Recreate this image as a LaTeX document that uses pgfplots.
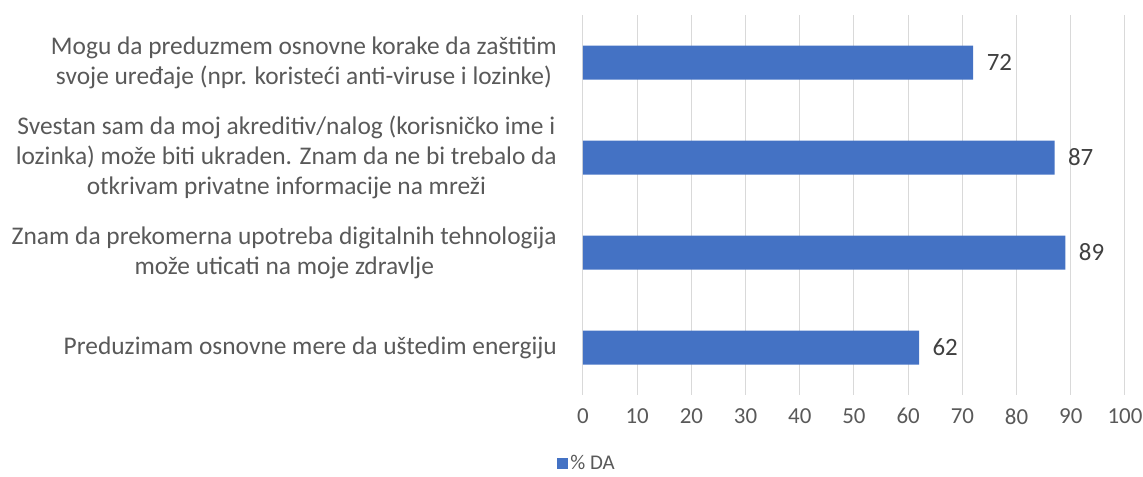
\documentclass[border=0pt]{standalone}
\usepackage{pgfplots}
\pgfplotsset{compat=1.18}
\usepackage{fontspec}
\setmainfont{Carlito}
\definecolor{barblue}{HTML}{4472C4}
\definecolor{txtgray}{HTML}{595959}
\definecolor{valgray}{HTML}{404040}
\definecolor{gridgray}{HTML}{D9D9D9}
\begin{document}
\begin{tikzpicture}
\useasboundingbox (-583bp,-82bp) rectangle (560bp,395bp);
\begin{axis}[
  at={(0,0)}, anchor=south west,
  scale only axis,
  width=542bp, height=380bp,
  xbar,
  bar width=34bp,
  xmin=0, xmax=100,
  ymin=-0.5, ymax=3.5,
  y dir=reverse,
  xtick={0,10,...,100},
  ytick={0,1,2,3},
  yticklabels={
    {Mogu da preduzmem osnovne korake da zaštitim\\svoje uređaje (npr. koristeći anti-viruse i lozinke)},
    {Svestan sam da moj akreditiv/nalog (korisničko ime i\\lozinka) može biti ukraden. Znam da ne bi trebalo da\\otkrivam privatne informacije na mreži},
    {Znam da prekomerna upotreba digitalnih tehnologija\\može uticati na moje zdravlje},
    {Preduzimam osnovne mere da uštedim energiju}
  },
  yticklabel style={align=center, text=txtgray, font=\fontsize{25.5}{30}\selectfont, inner sep=0pt, xshift=-26bp},
  xticklabel style={text=txtgray, font=\fontsize{23}{26}\selectfont, yshift=-10bp},
  /pgf/number format/assume math mode=true,
  xmajorgrids,
  grid style={gridgray, line width=1bp},
  axis line style={draw=none},
  major tick length=0pt,
  xtick style={draw=none}, ytick style={draw=none},
  nodes near coords,
  nodes near coords style={text=valgray, font=\fontsize{25}{28}\selectfont, xshift=10bp},
  every node near coord/.append style={anchor=west},
  legend style={at={(0.0074,-0.18)}, anchor=center, draw=none, fill=none, inner sep=1bp, font=\fontsize{21}{23}\selectfont, text=txtgray},
  legend image code/.code={\fill[barblue] (0bp,-6bp) rectangle (11bp,5bp);},
]
\addplot[fill=barblue, draw=none] coordinates {(72,0) (87,1) (89,2) (62,3)};
\addlegendentry{\% DA}
\end{axis}
\end{tikzpicture}
\end{document}
